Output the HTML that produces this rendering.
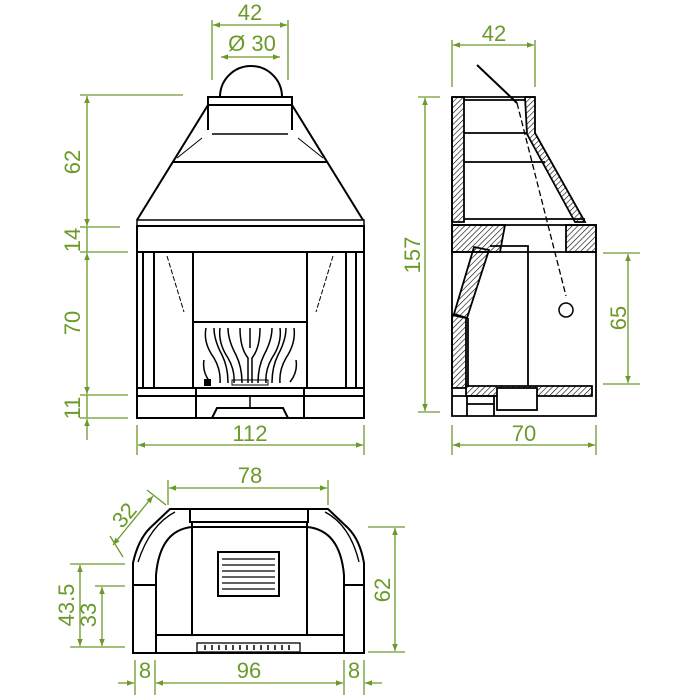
<!DOCTYPE html>
<html><head><meta charset="utf-8"><style>
html,body{margin:0;padding:0;background:#fff;}
svg{display:block;}
text{font-family:"Liberation Sans",sans-serif;font-size:22px;fill:#6b9a2a;}
</style></head><body>
<svg width="700" height="700" viewBox="0 0 700 700" xmlns="http://www.w3.org/2000/svg">
<defs>
<pattern id="h" width="4" height="4" patternUnits="userSpaceOnUse" patternTransform="rotate(45)">
<line x1="0" y1="0" x2="0" y2="4" stroke="#000" stroke-width="1.2"/></pattern>
<marker id="a" viewBox="0 0 10 10" refX="10" refY="5" markerWidth="9" markerHeight="7" orient="auto-start-reverse" markerUnits="userSpaceOnUse"><path d="M0,1 L10,5 L0,9z" fill="#6b9a2a"/></marker>
</defs>

<!-- ===== FRONT VIEW ===== -->
<g fill="none" stroke="#000" stroke-width="2">
<path d="M220,97 A31,31 0 0 1 282,97"/>
<rect x="208" y="97" width="84" height="8"/>
<path d="M208,105 L208,130 M292,105 L292,130"/>
<path d="M212,134 L288,134" stroke-width="1.5"/>
<path d="M208,105 L137,220 M292,105 L363,220"/>
<path d="M173,162 L327,162"/>
<path d="M202,138 L177,158 M298,138 L323,158" stroke-width="1"/>
<path d="M137,220 L364,220 L364,226 L137,226z" stroke-width="1.5"/>
<rect x="137" y="226" width="227" height="26"/>
<path d="M137,252 L137,418 L364,418 L364,252"/>
<path d="M143,252 L143,388 M154,252 L154,388 M346,252 L346,388 M356,252 L356,388"/>
<rect x="193" y="252" width="114" height="136"/>
<path d="M193,322 L307,322"/>
<path d="M167,256 L184,312 M333,256 L316,312" stroke-width="1" stroke-dasharray="5,2"/>
<path d="M137,388 L364,388 M137,396 L364,396"/>
<path d="M196,388 L196,418 M304,388 L304,418"/>
<path d="M212,418 L217,408 L283,408 L288,418"/>
<path d="M250,396 L250,408" stroke-width="1.5"/>
<g stroke-width="1.5">
<path d="M206,328 q-3,15 8,30 q7,12 6,25 M214,328 q0,12 8,27 q6,12 6,28"/>
<path d="M220,328 q-2,15 8,30 q7,12 6,25 M228,328 q0,12 8,27 q6,12 6,28"/>
<path d="M240,328 q0,20 8,30 l0,25 M250,328 l0,20 M260,328 q0,20 -8,30 l0,25"/>
<path d="M280,328 q2,15 -8,30 q-7,12 -6,25 M272,328 q0,12 -8,27 q-6,12 -6,28"/>
<path d="M294,328 q2,15 -8,30 q-7,12 -6,25 M286,328 q0,12 -8,27 q-6,12 -6,28"/>
<path d="M204,360 q-2,12 6,22 M296,360 q2,12 -6,22"/>
</g>
<rect x="205" y="380" width="5" height="5" fill="#000"/>
<rect x="232" y="380" width="36" height="5" stroke-width="1"/>
</g>

<!-- front dims -->
<g stroke="#6b9a2a" stroke-width="1.3" fill="none">
<path d="M212,20 L212,80 M288,20 L288,80"/>
<path d="M213,25 L287,25" marker-start="url(#a)" marker-end="url(#a)"/>
<path d="M221,57 L280,57" marker-start="url(#a)" marker-end="url(#a)"/>
<path d="M80,95 L183,95 M80,227 L120,227 M80,252 L128,252 M80,395 L128,395 M80,418 L128,418"/>
<path d="M87,96 L87,226" marker-start="url(#a)" marker-end="url(#a)"/>
<path d="M87,253 L87,394" marker-start="url(#a)" marker-end="url(#a)"/>
<path d="M87,227 L87,252 M87,395 L87,418"/>
<path d="M87,440 L87,419" marker-end="url(#a)"/>
<path d="M137,425 L137,455 M364,425 L364,455"/>
<path d="M138,445 L363,445" marker-start="url(#a)" marker-end="url(#a)"/>
</g>
<text x="250" y="20" text-anchor="middle">42</text>
<text x="252" y="51" text-anchor="middle">Ø 30</text>
<text x="250" y="441" text-anchor="middle">112</text>
<text transform="translate(80,162) rotate(-90)" text-anchor="middle">62</text>
<text transform="translate(80,240) rotate(-90)" text-anchor="middle">14</text>
<text transform="translate(80,323) rotate(-90)" text-anchor="middle">70</text>
<text transform="translate(80,408) rotate(-90)" text-anchor="middle">11</text>

<!-- ===== SIDE VIEW ===== -->
<g stroke="#000" stroke-width="1.8">
<path d="M452,97 L464,97 L464,222 L452,222z" fill="url(#h)"/>
<path d="M525,97 L535,97 L535,133 L585,222 L575,222 L527,134z" fill="url(#h)"/>
<path d="M452,225 L505,225 L500,252 L452,252z" fill="url(#h)"/>
<path d="M566,225 L596,225 L596,252 L566,252z" fill="url(#h)"/>
<path d="M474,247 L489,250 L467,318 L454,314z" fill="url(#h)"/>
<path d="M452,315 L466,318 L466,388 L452,388z" fill="url(#h)"/>
<path d="M466,386 L592,386 L592,396 L466,396z" fill="url(#h)"/>
</g>
<g fill="none" stroke="#000" stroke-width="1.8">
<path d="M452,97 L535,97 M452,97 L452,416 L596,416 L596,225 L452,225"/>
<path d="M464,100 L525,100 M464,133 L527,133 M464,162 L545,162 M464,219 L585,219"/>
<path d="M452,252 L596,252"/>
<path d="M490,246 L528,246 L528,386"/>
<path d="M468,318 L468,386"/>
<rect x="497" y="388" width="40" height="22" fill="#fff"/>
<path d="M452,396 L497,396 M467,396 L467,416 M494,396 L494,416 M467,404 L494,404"/>
<path d="M477,65 L517,103" stroke-width="2"/>
<path d="M517,103 L566,296" stroke-width="1.3" stroke-dasharray="6,3"/>
<circle cx="566" cy="310" r="7" stroke-width="1.5"/>
</g>
<g stroke="#6b9a2a" stroke-width="1.3" fill="none">
<path d="M452,40 L452,87 M535,40 L535,87"/>
<path d="M453,45 L534,45" marker-start="url(#a)" marker-end="url(#a)"/>
<path d="M418,97 L440,97 M418,412 L440,412"/>
<path d="M425,98 L425,411" marker-start="url(#a)" marker-end="url(#a)"/>
<path d="M603,253 L640,253 M603,384 L640,384"/>
<path d="M628,254 L628,383" marker-start="url(#a)" marker-end="url(#a)"/>
<path d="M452,425 L452,455 M596,425 L596,455"/>
<path d="M453,445 L595,445" marker-start="url(#a)" marker-end="url(#a)"/>
</g>
<text x="494" y="41" text-anchor="middle">42</text>
<text transform="translate(420,255) rotate(-90)" text-anchor="middle">157</text>
<text transform="translate(626,318) rotate(-90)" text-anchor="middle">65</text>
<text x="524" y="441" text-anchor="middle">70</text>

<!-- ===== TOP VIEW ===== -->
<g fill="none" stroke="#000" stroke-width="2">
<path d="M133,653 L133,563 Q138,540 150,528 L170,509 L328,509 L348,528 Q360,540 364,563 L364,653z"/>
<path d="M138,562 Q150,525 175,512 M359,562 Q350,525 325,512" stroke-width="1.3"/>
<path d="M156,653 L156,575 Q160,530 192,527 L307,527 Q340,530 344,575 L344,653"/>
<path d="M190,509 L190,522 L308,522 L308,509 M192,522 L192,635 M307,522 L307,635"/>
<path d="M133,585 L156,585 M344,585 L364,585 M156,635 L344,635"/>
<rect x="218" y="552" width="61" height="44"/>
<path d="M222,559 L275,559 M222,565 L275,565 M222,571 L275,571 M222,577 L275,577 M222,583 L275,583 M222,589 L275,589" stroke-width="1.3"/>
<rect x="197" y="643" width="103" height="9" stroke-width="1.3"/>
<path d="M205,645 L205,650 M212,645 L212,650 M219,645 L219,650 M226,645 L226,650 M233,645 L233,650 M240,645 L240,650 M247,645 L247,650 M254,645 L254,650 M261,645 L261,650 M268,645 L268,650 M275,645 L275,650 M282,645 L282,650 M289,645 L289,650" stroke-width="1.5"/>
</g>
<g stroke="#6b9a2a" stroke-width="1.3" fill="none">
<path d="M168,480 L168,505 M328,480 L328,505"/>
<path d="M169,488 L327,488" marker-start="url(#a)" marker-end="url(#a)"/>
<path d="M147,490 L166,505 M110,536 L123,557"/>
<path d="M153,496 L113,545" marker-start="url(#a)" marker-end="url(#a)"/>
<path d="M70,564 L125,564 M95,586 L125,586 M70,647 L125,647"/>
<path d="M80,565 L80,646" marker-start="url(#a)" marker-end="url(#a)"/>
<path d="M102,587 L102,646" marker-start="url(#a)" marker-end="url(#a)"/>
<path d="M368,527 L405,527 M368,652 L405,652"/>
<path d="M395,528 L395,651" marker-start="url(#a)" marker-end="url(#a)"/>
<path d="M135,660 L135,695 M155,660 L155,695 M344,660 L344,695 M364,660 L364,695"/>
<path d="M118,683 L134,683" marker-end="url(#a)"/>
<path d="M156,683 L343,683" marker-start="url(#a)" marker-end="url(#a)"/>
<path d="M382,683 L365,683" marker-end="url(#a)"/>
</g>
<text x="250" y="483" text-anchor="middle">78</text>
<text transform="translate(130,520) rotate(-50)" text-anchor="middle">32</text>
<text transform="translate(74,605) rotate(-90)" text-anchor="middle">43.5</text>
<text transform="translate(96,615) rotate(-90)" text-anchor="middle">33</text>
<text transform="translate(390,590) rotate(-90)" text-anchor="middle">62</text>
<text x="145" y="678" text-anchor="middle">8</text>
<text x="249" y="678" text-anchor="middle">96</text>
<text x="354" y="678" text-anchor="middle">8</text>
</svg>
</body></html>
